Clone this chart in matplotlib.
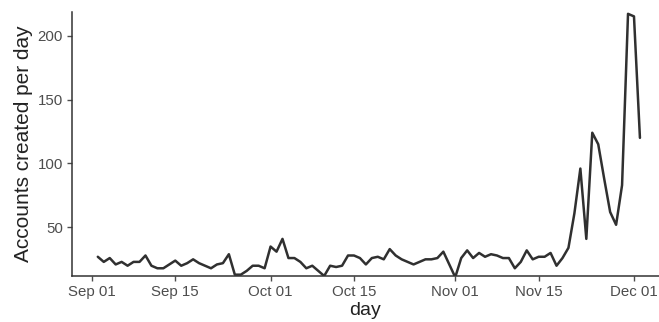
import pandas as pd
import matplotlib
matplotlib.use("Agg")
import matplotlib.pyplot as plt
import matplotlib.dates as mdates

# daily account sign-ups, Sep 02 .. Dec 02
counts = [27, 23, 26, 21, 23, 20, 23, 23, 28, 20,
          18, 18, 21, 24, 20, 22, 25, 22, 20, 18,
          21, 22, 29, 13, 13, 16, 20, 20, 18, 35,
          31, 41, 26, 26, 23, 18, 20, 16, 12, 20,
          19, 20, 28, 28, 26, 21, 26, 27, 25, 33,
          28, 25, 23, 21, 23, 25, 25, 26, 31, 21,
          11, 26, 32, 26, 30, 27, 29, 28, 26, 26,
          18, 23, 32, 25, 27, 27, 30, 20, 26, 34,
          61, 96, 41, 124, 115, 88, 62, 52, 83, 217,
          215, 120]
days = pd.date_range("2017-09-02", periods=len(counts), freq="D")

tick_dates = ["2017-09-01", "2017-09-15", "2017-10-01", "2017-10-15",
              "2017-11-01", "2017-11-15", "2017-12-01"]
y_ticks = [50, 100, 150, 200]

plt.rcParams["font.family"] = ["Liberation Sans", "DejaVu Sans"]

fig = plt.figure(figsize=(6.59, 3.22), dpi=100)
ax = fig.add_axes([0.109, 0.143, 0.891, 0.82])

ax.plot(days, counts, color="#303030", linewidth=1.8,
        solid_joinstyle="round", solid_capstyle="round")

ax.set_xlim(pd.Timestamp("2017-09-01") - pd.Timedelta(days=3.36),
            pd.Timestamp("2017-12-02") + pd.Timedelta(days=3.2))
ax.set_ylim(12, 218.5)

ax.set_xticks(pd.to_datetime(tick_dates))
ax.xaxis.set_major_formatter(mdates.DateFormatter("%b %d"))
ax.set_yticks(y_ticks)

for side in ("top", "right"):
    ax.spines[side].set_visible(False)
for side in ("left", "bottom"):
    ax.spines[side].set_color("#333333")
    ax.spines[side].set_linewidth(1.1)

ax.tick_params(axis="both", colors="#4d4d4d", labelsize=10.8,
               length=3.5, width=1.0, pad=3)

ax.set_xlabel("day", fontsize=14, color="#222222", labelpad=2)
ax.set_ylabel("Accounts created per day", fontsize=15, color="#222222",
              labelpad=3)

fig.savefig("out.png", dpi=100)
